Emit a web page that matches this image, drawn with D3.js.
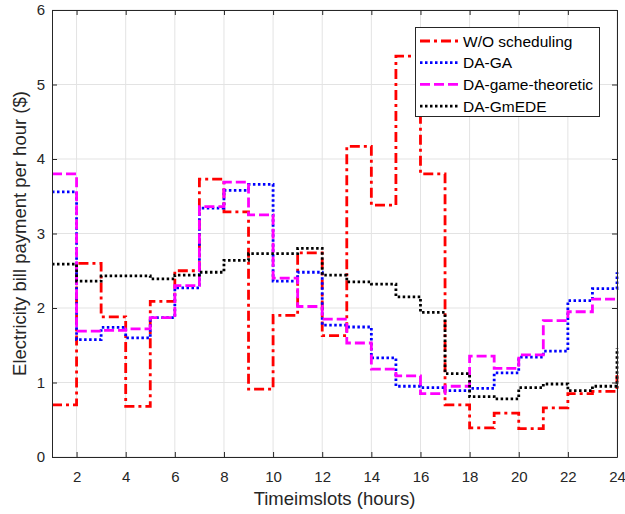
<!DOCTYPE html>
<html><head><meta charset="utf-8">
<script src="https://cdn.jsdelivr.net/npm/d3@7"></script>
<style>body{margin:0;background:#fff}svg{display:block}text{font-family:"Liberation Sans",Arial,sans-serif}</style>
</head><body>
<script>
const hours = d3.range(1, 25);
const xTicks = [2,4,6,8,10,12,14,16,18,20,22,24];
const yTicks = [0,1,2,3,4,5,6];
const woScheduling = [0.70,2.60,1.88,0.68,2.09,2.50,3.73,3.29,0.91,1.90,2.74,1.63,4.17,3.38,5.38,3.80,0.70,0.39,0.59,0.38,0.66,0.85,0.88,1.10];
const daGA = [3.56,1.575,1.74,1.60,1.87,2.27,3.34,3.58,3.66,2.36,2.48,1.77,1.745,1.33,0.95,0.93,0.89,0.92,1.13,1.34,1.42,2.10,2.26,2.48];
const daGame = [3.80,1.69,1.70,1.72,1.87,2.30,3.36,3.69,3.25,2.40,2.02,1.85,1.53,1.18,1.09,0.85,0.95,1.355,1.19,1.37,1.83,1.95,2.12,2.13];
const daGmEDE = [2.59,2.36,2.43,2.43,2.39,2.44,2.48,2.64,2.73,2.73,2.80,2.44,2.35,2.32,2.15,1.94,1.12,0.81,0.78,0.93,0.98,0.89,0.95,1.46];
const seriesNames = ["W/O scheduling","DA-GA","DA-game-theoretic","DA-GmEDE"];
const series = [woScheduling, daGA, daGame, daGmEDE];
const colors = ["#ff0000","#0000ff","#ff00ff","#000000"];
const dashes = ["10,4,3,4","2.5,2.5","10,4","2.5,2.5"];

const W = 625, H = 514;
const m = {l:52, r:8, t:10, b:57};
const svg = d3.select("body").append("svg").attr("width", W).attr("height", H);
const x = d3.scaleLinear().domain([1,24]).range([m.l, W-m.r]);
const y = d3.scaleLinear().domain([0,6]).range([H-m.b, m.t]);

// grid
svg.append("g").selectAll("line").data(xTicks).join("line")
  .attr("x1", d=>x(d)).attr("x2", d=>x(d)).attr("y1", y(0)).attr("y2", y(6))
  .attr("stroke", "#e3e3e3").attr("stroke-width", 1);
svg.append("g").selectAll("line").data(yTicks).join("line")
  .attr("y1", d=>y(d)).attr("y2", d=>y(d)).attr("x1", x(1)).attr("x2", x(24))
  .attr("stroke", "#e3e3e3").attr("stroke-width", 1);

// lines
const line = d3.line().x(d=>x(d[0])).y(d=>y(d[1])).curve(d3.curveStepAfter);
series.forEach((s, i) => {
  const pts = hours.map((h, j) => [h, s[j]]);
  svg.append("path").attr("d", line(pts)).attr("fill", "none")
    .attr("stroke", colors[i]).attr("stroke-width", 2.8)
    .attr("stroke-dasharray", dashes[i]);
});

// axes
const axStyle = g => {
  g.selectAll("path.domain").attr("stroke", "#262626");
  g.selectAll(".tick line").attr("stroke", "#262626");
  g.selectAll("text").attr("font-size", 15).attr("fill", "#262626")
    .attr("font-family", "Liberation Sans, Arial, sans-serif");
};
svg.append("g").attr("transform", `translate(0,${y(0)})`)
  .call(d3.axisBottom(x).tickValues(xTicks).tickSizeInner(-5).tickSizeOuter(0).tickPadding(14)).call(axStyle);
svg.append("g").attr("transform", `translate(0,${y(6)})`)
  .call(d3.axisTop(x).tickValues(xTicks).tickSizeInner(-5).tickSizeOuter(0).tickFormat("")).call(axStyle);
svg.append("g").attr("transform", `translate(${x(1)},0)`)
  .call(d3.axisLeft(y).tickValues(yTicks).tickFormat(d3.format("d")).tickSizeInner(-5).tickSizeOuter(0).tickPadding(7)).call(axStyle);
svg.append("g").attr("transform", `translate(${x(24)},0)`)
  .call(d3.axisRight(y).tickValues(yTicks).tickSizeInner(-5).tickSizeOuter(0).tickFormat("")).call(axStyle);

// axis titles
svg.append("text").attr("x", (x(1)+x(24))/2).attr("y", 505).attr("text-anchor", "middle")
  .attr("font-size", 18.5).attr("fill", "#262626").text("Timeimslots (hours)");
svg.append("text").attr("transform", `translate(26,${(y(0)+y(6))/2}) rotate(-90)`)
  .attr("text-anchor", "middle").attr("font-size", 18.5).attr("fill", "#262626")
  .text("Electricity bill payment per hour ($)");

// legend
const lg = svg.append("g");
lg.append("rect").attr("x", 415.5).attr("y", 27.5).attr("width", 184).attr("height", 89)
  .attr("fill", "#fff").attr("stroke", "#262626").attr("stroke-width", 1);
seriesNames.forEach((n, i) => {
  const yy = 41 + i*21.7;
  lg.append("line").attr("x1", 420).attr("x2", 459).attr("y1", yy).attr("y2", yy)
    .attr("stroke", colors[i]).attr("stroke-width", 2.8).attr("stroke-dasharray", dashes[i]);
  lg.append("text").attr("x", 463).attr("y", yy+5.5).attr("font-size", 15.5).attr("fill", "#000").text(n);
});
</script>
</body></html>
